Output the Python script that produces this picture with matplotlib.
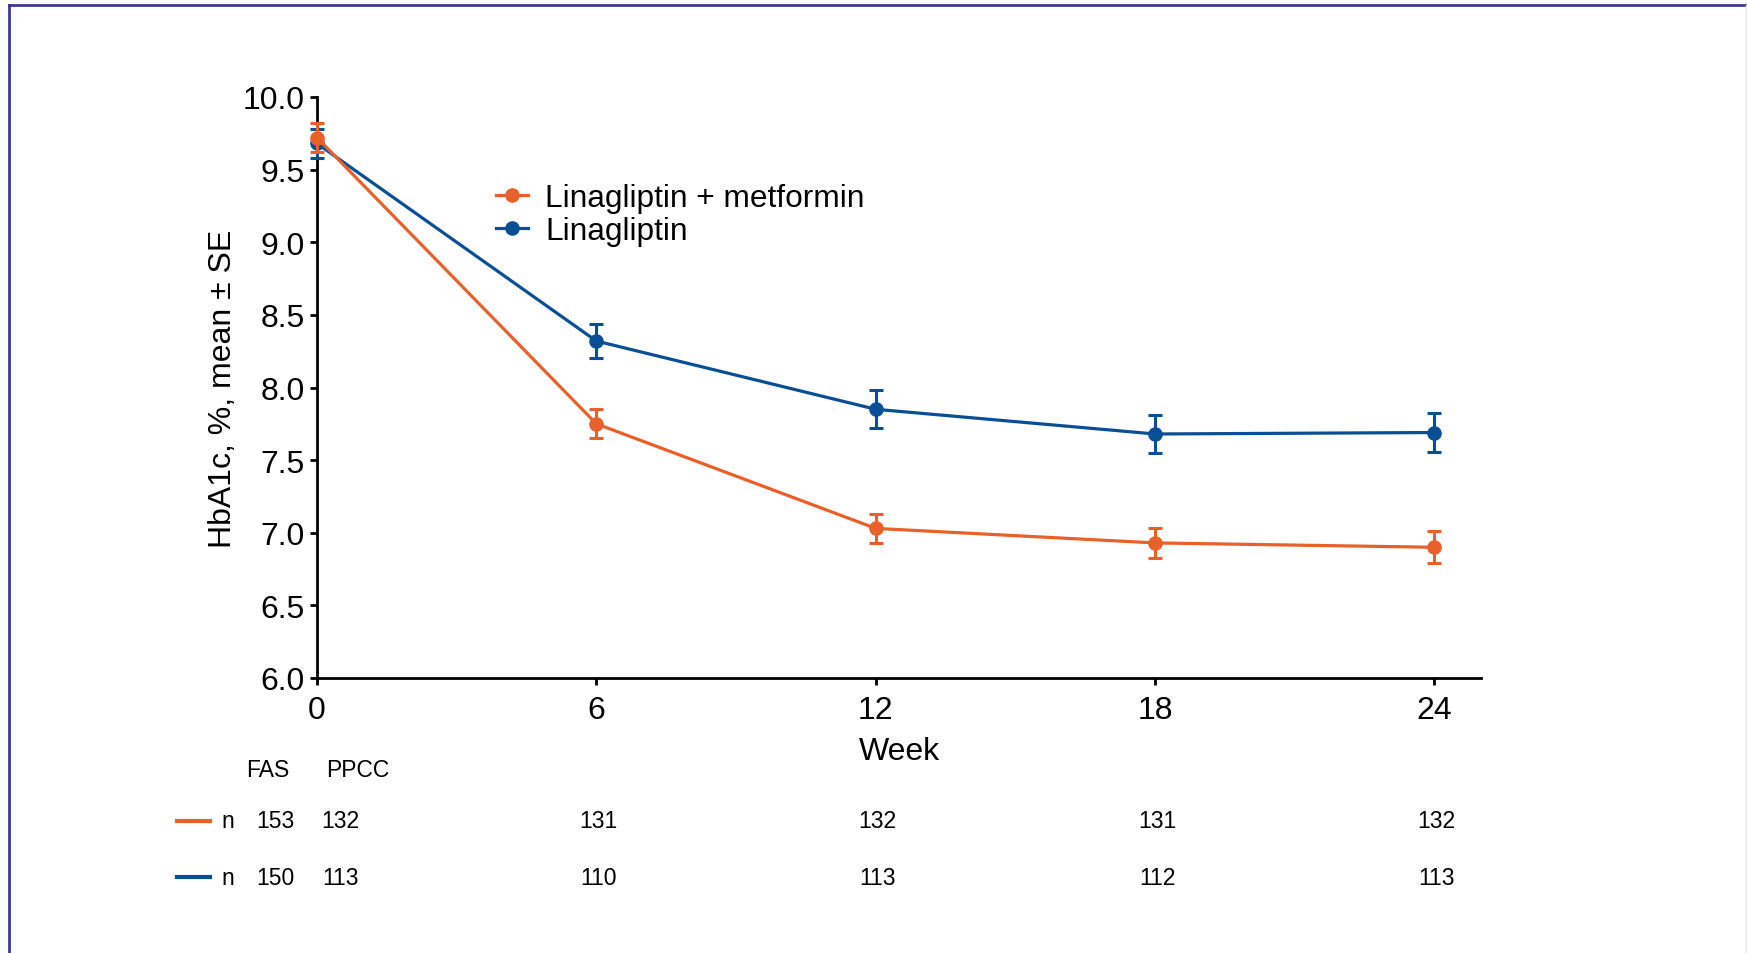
import numpy as np
import matplotlib.pyplot as plt
from matplotlib.lines import Line2D

plt.rcParams['font.family'] = ['Liberation Sans', 'DejaVu Sans']

# data
weeks = [0, 6, 12, 18, 24]
combo_mean = [9.72, 7.75, 7.03, 6.93, 6.90]
combo_se = [0.10, 0.10, 0.10, 0.105, 0.11]
lina_mean = [9.68, 8.32, 7.85, 7.68, 7.69]
lina_se = [0.10, 0.12, 0.13, 0.13, 0.135]
labels = ["Linagliptin + metformin", "Linagliptin"]

fas_n = [153, 150]
ppcc_n = [[132, 131, 132, 131, 132],
          [113, 110, 113, 112, 113]]

orange = "#E8602A"
blue = "#0A4F95"
border = "#3F3A8F"

W, H = 1747, 954
fig = plt.figure(figsize=(W / 100, H / 100), dpi=100)
ax = fig.add_axes([317 / W, 1 - 679 / H, (1481 - 317) / W, (679 - 98) / H])

# blue first so orange sits on top at week 0
ax.errorbar(weeks, lina_mean, yerr=lina_se, fmt='none', ecolor=blue,
            elinewidth=2.2, capsize=5, capthick=2.2, clip_on=False, zorder=3)
l2, = ax.plot(weeks, lina_mean, color=blue, lw=2.3, marker='o', ms=9.5,
              clip_on=False, zorder=4, label=labels[1])
ax.errorbar(weeks, combo_mean, yerr=combo_se, fmt='none', ecolor=orange,
            elinewidth=2.2, capsize=5, capthick=2.2, clip_on=False, zorder=5)
l1, = ax.plot(weeks, combo_mean, color=orange, lw=2.3, marker='o', ms=9.5,
              clip_on=False, zorder=6, label=labels[0])

ax.set_xlim(0, 25)
ax.set_ylim(6, 10)
ax.set_xticks(weeks)
ax.set_yticks(np.arange(6, 10.01, 0.5))
ax.set_yticklabels([f"{v:.1f}" for v in np.arange(6, 10.01, 0.5)])
for s in ['top', 'right']:
    ax.spines[s].set_visible(False)
for s in ['left', 'bottom']:
    ax.spines[s].set_linewidth(2)
ax.tick_params(direction='out', length=5, width=2, labelsize=23, pad=4)
ax.tick_params(axis='x', pad=7)

ax.set_xlabel("Week", fontsize=23, labelpad=8)
ax.set_ylabel("HbA1c, %, mean \u00b1 SE", fontsize=23, labelpad=3)

ax.legend(handles=[l1, l2], loc='upper left', bbox_to_anchor=(0.154, 0.852),
          frameon=False, fontsize=22.8, handlelength=1.0, handletextpad=0.55,
          labelspacing=0.1, borderpad=0, borderaxespad=0)

# numbers-at-risk table under the axis
fs = 16.5
y_head, y_rows = 1 - 770.7 / H, [1 - 821.7 / H, 1 - 878.3 / H]
fig.text(268 / W, y_head, "FAS", fontsize=fs, ha='center', va='center')
fig.text(358 / W, y_head, "PPCC", fontsize=fs, ha='center', va='center')
for i, c in enumerate([orange, blue]):
    yr = y_rows[i]
    fig.add_artist(Line2D([177 / W, 210 / W], [yr, yr], transform=fig.transFigure,
                          color=c, lw=3))
    fig.text(228 / W, yr, "n", fontsize=fs, ha='center', va='center')
    fig.text(275 / W, yr, str(fas_n[i]), fontsize=fs, ha='center', va='center')
    fig.text(340 / W, yr, str(ppcc_n[i][0]), fontsize=fs, ha='center', va='center')
    for wk, n in zip(weeks[1:], ppcc_n[i][1:]):
        xf = fig.transFigure.inverted().transform(ax.transData.transform((wk, 6)))[0]
        fig.text(xf + 2 / W, yr, str(n), fontsize=fs, ha='center', va='center')

# frame around the panel (cut at bottom)
fig.add_artist(Line2D([9 / W, 1], [1 - 5.5 / H] * 2, transform=fig.transFigure,
                      color=border, lw=2))
fig.add_artist(Line2D([9 / W, 9 / W], [0, 1 - 5.5 / H], transform=fig.transFigure,
                      color=border, lw=2))
fig.add_artist(Line2D([1 - 1.5 / W] * 2, [0, 1 - 5.5 / H], transform=fig.transFigure,
                      color="#E4E2F0", lw=1))

fig.savefig("out.png", dpi=100)
